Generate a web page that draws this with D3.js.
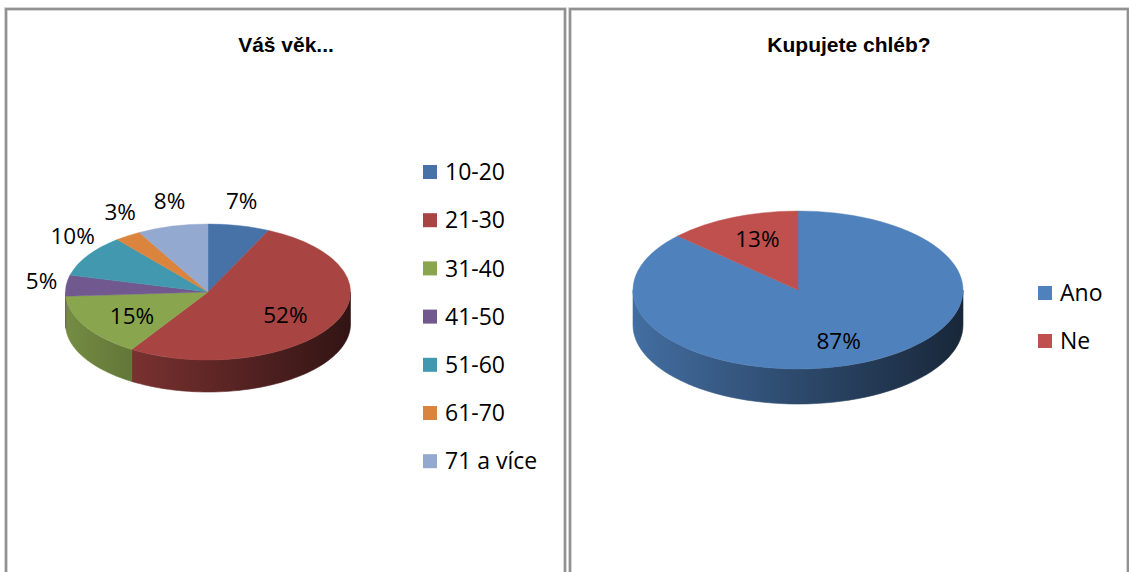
<!DOCTYPE html>
<html>
<head>
<meta charset="utf-8">
<script src="https://cdn.jsdelivr.net/npm/d3@7"></script>
<style>
  html, body { margin: 0; padding: 0; background: #ffffff; }
  svg { display: block; }
</style>
</head>
<body>
<script>
// ---- data ----
const ageTitle = "Váš věk...";
const ageCategories = ["10-20", "21-30", "31-40", "41-50", "51-60", "61-70", "71 a více"];
const ageValues = [7, 52, 15, 5, 10, 3, 8];
const ageColors = ["#4672A8", "#A84442", "#89A54E", "#71588F", "#4198AF", "#DB843D", "#93A9CF"];

const breadTitle = "Kupujete chléb?";
const breadCategories = ["Ano", "Ne"];
const breadValues = [87, 13];
const breadColors = ["#4F81BD", "#C0504D"];

const W = 1129, H = 572;
const svg = d3.select("body").append("svg").attr("width", W).attr("height", H);
const defs = svg.append("defs");

// panels
function panel(x0, x1) {
  svg.append("rect").attr("x", x0).attr("y", 9).attr("width", x1 - x0).attr("height", 700)
    .attr("fill", "#ffffff").attr("stroke", "#c8c8c8").attr("stroke-width", 3.5);
  svg.append("rect").attr("x", x0).attr("y", 9).attr("width", x1 - x0).attr("height", 700)
    .attr("fill", "none").attr("stroke", "#858585").attr("stroke-width", 1.6);
}
panel(6, 565);
panel(570, 1128);

const fontLbl = "'Open Sans', 'Liberation Sans', sans-serif";

let gradId = 0;
function sideGradient(color, x0, x1) {
  const id = "g" + (gradId++);
  const c = d3.rgb(color);
  const lg = defs.append("linearGradient").attr("id", id)
    .attr("gradientUnits", "userSpaceOnUse")
    .attr("x1", x0).attr("x2", x1).attr("y1", 0).attr("y2", 0);
  const stops = [[0, 0.85], [0.45, 0.6], [1, 0.3]];
  stops.forEach(([o, k]) => {
    lg.append("stop").attr("offset", o)
      .attr("stop-color", d3.rgb(c.r * k, c.g * k, c.b * k).formatHex());
  });
  return "url(#" + id + ")";
}

function pie3d(o) {
  const { cx, cy, rx, ry, depth, values, colors, insideMin } = o;
  const g = svg.append("g");
  const arcs = d3.pie().sort(null).value(d => d)(values);
  const px = a => cx + rx * Math.sin(a);
  const py = a => cy - ry * Math.cos(a);

  // sides (front half: angles PI/2 .. 3PI/2)
  arcs.forEach((d, i) => {
    const a0 = Math.max(d.startAngle, Math.PI / 2);
    const a1 = Math.min(d.endAngle, 3 * Math.PI / 2);
    if (a1 <= a0) return;
    const p = d3.path();
    p.moveTo(px(a0), py(a0));
    const n = 60;
    for (let k = 1; k <= n; k++) {
      const a = a0 + (a1 - a0) * k / n;
      p.lineTo(px(a), py(a));
    }
    p.lineTo(px(a1), py(a1) + depth);
    for (let k = n - 1; k >= 0; k--) {
      const a = a0 + (a1 - a0) * k / n;
      p.lineTo(px(a), py(a) + depth);
    }
    p.closePath();
    const fill = sideGradient(colors[i], cx - rx, cx + rx);
    g.append("path").attr("d", p.toString()).attr("fill", fill)
      .attr("stroke", fill).attr("stroke-width", 0.6);
  });

  // top faces via d3.arc scaled into an ellipse
  const arc = d3.arc().innerRadius(0).outerRadius(rx);
  const top = g.append("g").attr("transform", `translate(${cx},${cy}) scale(1,${ry / rx})`);
  top.selectAll("path").data(arcs).join("path")
    .attr("d", arc)
    .attr("fill", (d, i) => colors[i])
    .attr("stroke", (d, i) => colors[i])
    .attr("stroke-width", 0.6);

  // labels
  arcs.forEach((d) => {
    const m = (d.startAngle + d.endAngle) / 2;
    const s = Math.sin(m), c = Math.cos(m);
    let x, y;
    if (d.data >= insideMin) {
      x = cx + rx * 0.62 * s;
      y = cy - ry * 0.7 * c;
    } else {
      let nx = s / rx, ny = -c / ry;
      const L = Math.hypot(nx, ny);
      nx /= L; ny /= L;
      x = px(m) + nx * 25;
      y = py(m) + ny * 25;
    }
    g.append("text").attr("x", x).attr("y", y).attr("dy", "0.36em")
      .attr("text-anchor", "middle")
      .style("font-family", fontLbl).style("font-size", "22.5px").attr("fill", "#000")
      .text(d.data + "%");
  });
}

function legend(x, y0, step, cats, colors) {
  const g = svg.append("g");
  cats.forEach((c, i) => {
    const y = y0 + i * step;
    g.append("rect").attr("x", x).attr("y", y - 7).attr("width", 14).attr("height", 14)
      .attr("fill", colors[i]);
    g.append("text").attr("x", x + 22).attr("y", y).attr("dy", "0.36em")
      .style("font-family", fontLbl).style("font-size", "23px").attr("fill", "#000")
      .text(c);
  });
}

function title(x, t) {
  svg.append("text").attr("x", x).attr("y", 52).attr("text-anchor", "middle")
    .style("font-family", "'Liberation Sans', Arial, sans-serif")
    .style("font-weight", "bold").style("font-size", "21px").attr("fill", "#000")
    .text(t);
}

title(286, ageTitle);
title(849, breadTitle);

pie3d({ cx: 208, cy: 292, rx: 142.5, ry: 68, depth: 32,
        values: ageValues, colors: ageColors, insideMin: 12 });
pie3d({ cx: 798, cy: 290, rx: 165, ry: 79, depth: 35,
        values: breadValues, colors: breadColors, insideMin: 12 });

legend(423, 172, 48.2, ageCategories, ageColors);
legend(1038, 293, 48, breadCategories, breadColors);
</script>
</body>
</html>
